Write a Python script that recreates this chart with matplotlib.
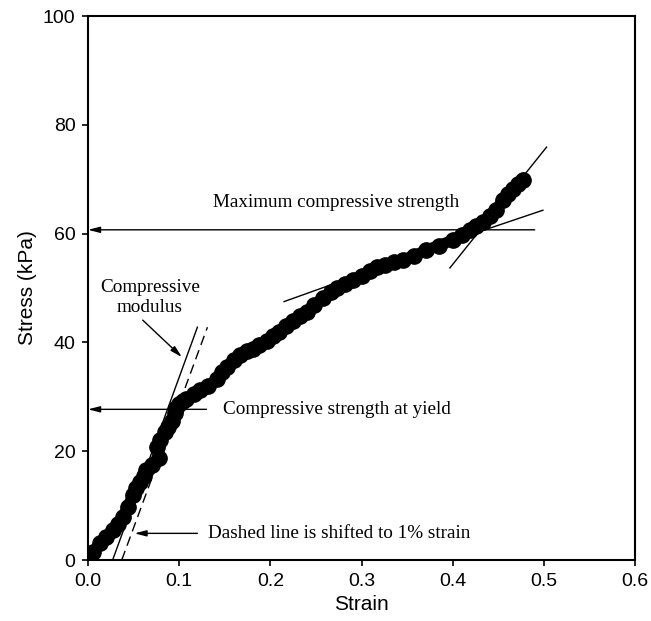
import numpy as np
import matplotlib
matplotlib.use('Agg')
import matplotlib.pyplot as plt

# Stress-strain curve
strain = [0.000, 0.006, 0.013, 0.020, 0.027, 0.033, 0.038, 0.044, 0.049, 0.053,
          0.057, 0.061, 0.064, 0.070, 0.078, 0.076, 0.079, 0.084, 0.088, 0.092,
          0.095, 0.097, 0.100, 0.104, 0.108, 0.116, 0.123, 0.132, 0.141, 0.147,
          0.152, 0.160, 0.167, 0.174, 0.181, 0.188, 0.196, 0.203, 0.210, 0.217,
          0.225, 0.232, 0.240, 0.248, 0.258, 0.266, 0.273, 0.282, 0.291, 0.300,
          0.309, 0.317, 0.326, 0.336, 0.345, 0.358, 0.371, 0.385, 0.400, 0.410,
          0.419, 0.426, 0.433, 0.441, 0.448, 0.455, 0.461, 0.466, 0.472, 0.477]
stress = [0.0, 1.5, 3.1, 4.3, 5.5, 6.6, 7.9, 9.8, 12.0, 13.2,
          14.4, 15.5, 16.5, 17.5, 18.7, 20.8, 22.0, 23.5, 24.5, 25.6,
          27.0, 28.0, 28.6, 29.2, 29.6, 30.5, 31.2, 32.0, 33.2, 34.6,
          35.5, 36.8, 37.7, 38.4, 38.8, 39.6, 40.2, 41.2, 42.0, 43.0,
          43.9, 44.9, 45.6, 46.8, 48.2, 49.2, 50.0, 50.8, 51.5, 52.3,
          53.2, 53.9, 54.3, 54.7, 55.2, 55.9, 57.0, 57.8, 58.8, 59.8,
          60.7, 61.4, 62.1, 63.2, 64.4, 66.2, 67.2, 68.2, 69.2, 69.9]

# tangent / construction lines (x range and end values)
modulus_x = [0.027, 0.120]
modulus_y = [0.0, 42.8]
offset_x = [0.037, 0.131]
offset_y = [0.0, 42.8]
mid_tan_x = [0.215, 0.300]
mid_tan_y = [47.5, 52.6]
end_tan_x = [0.400, 0.499]
end_tan_y = [58.7, 64.3]
steep_x = [0.397, 0.503]
steep_y = [53.7, 75.9]

max_strength = 60.7
yield_strength = 27.7

serif = 'Liberation Serif'
sans = 'Liberation Sans'
plt.rcParams['font.family'] = sans

fig = plt.figure(figsize=(6.51, 6.21), dpi=100)
ax = fig.add_axes([0.1352, 0.0982, 0.8402, 0.8760])

ax.plot(strain, stress, '-o', color='black', lw=8, ms=11, zorder=3)

ax.plot(modulus_x, modulus_y, color='black', lw=1.0)
ax.plot(offset_x, offset_y, color='black', lw=1.0, ls=(0, (7, 4)))
ax.plot(mid_tan_x, mid_tan_y, color='black', lw=1.0)
ax.plot(end_tan_x, end_tan_y, color='black', lw=1.0)
ax.plot(steep_x, steep_y, color='black', lw=1.0)

arrow = dict(arrowstyle='-|>,head_length=0.7,head_width=0.18', color='black',
             lw=1.0, shrinkA=0, shrinkB=0)
fs = 13.8

ax.annotate('', xy=(0.0, max_strength), xytext=(0.49, max_strength),
            arrowprops=arrow)
ax.text(0.137, 65.8, 'Maximum compressive strength', family=serif,
        fontsize=fs, va='center', ha='left')

ax.annotate('', xy=(0.0, yield_strength), xytext=(0.130, yield_strength),
            arrowprops=arrow)
ax.text(0.148, yield_strength, 'Compressive strength at yield', family=serif,
        fontsize=fs, va='center', ha='left')

ax.annotate('', xy=(0.051, 4.9), xytext=(0.120, 4.9), arrowprops=arrow)
ax.text(0.132, 4.9, 'Dashed line is shifted to 1% strain', family=serif,
        fontsize=fs, va='center', ha='left')

ax.annotate('', xy=(0.103, 37.3), xytext=(0.060, 44.1), arrowprops=arrow)
ax.text(0.068, 48.2, 'Compressive\nmodulus', family=serif, fontsize=fs,
        va='center', ha='center', linespacing=1.25)

ax.set_xlim(0, 0.6)
ax.set_ylim(0, 100)
ax.set_xticks(np.arange(0, 0.61, 0.1))
ax.set_xticklabels(['0.0', '0.1', '0.2', '0.3', '0.4', '0.5', '0.6'])
ax.set_yticks(np.arange(0, 101, 20))

ax.tick_params(direction='out', length=4, width=1.2, labelsize=14, pad=5)
for sp in ax.spines.values():
    sp.set_linewidth(1.5)

ax.set_xlabel('Strain', fontsize=15, labelpad=4)
ax.set_ylabel('Stress (kPa)', fontsize=15, labelpad=4)

fig.savefig('out.png', dpi=100)
